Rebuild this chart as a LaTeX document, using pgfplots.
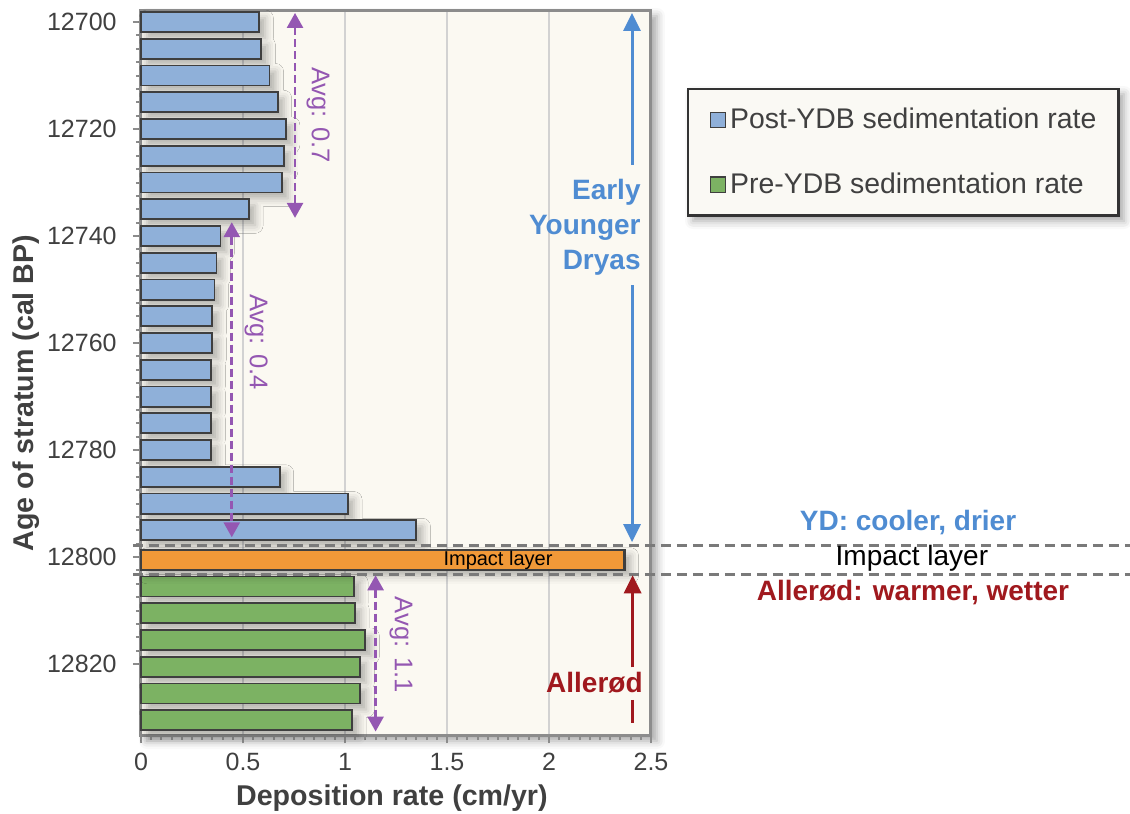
\documentclass[border=0pt]{standalone}
\usepackage{fontspec}
\setmainfont{Liberation Sans}
\usepackage{pgfplots}
\pgfplotsset{compat=1.18}
\usetikzlibrary{arrows.meta,shadows.blur}
\definecolor{barblue}{HTML}{8FB0D9}
\definecolor{bargreen}{HTML}{7CB263}
\definecolor{barorange}{HTML}{F19938}
\definecolor{bardark}{HTML}{3F3F3F}
\definecolor{plotbg}{HTML}{FBF9F2}
\definecolor{gridgray}{HTML}{D2D2D2}
\definecolor{framegray}{HTML}{8C8C8C}
\definecolor{textgray}{HTML}{404040}
\definecolor{purp}{HTML}{9457B2}
\definecolor{ydblue}{HTML}{4F8CD2}
\definecolor{alred}{HTML}{A0191E}
\definecolor{dashgray}{HTML}{7A7A7A}
\definecolor{legfill}{HTML}{FAF9F4}
\definecolor{legdark}{HTML}{333333}

\pgfplotstableread{
age rate
12700 0.58
12705 0.59
12710 0.63
12715 0.67
12720 0.71
12725 0.70
12730 0.69
12735 0.53
12740 0.39
12745 0.37
12750 0.36
12755 0.35
12760 0.35
12765 0.345
12770 0.345
12775 0.345
12780 0.345
12785 0.68
12790 1.015
12795 1.35
}\postydb
\pgfplotstableread{
age rate
12805.5 1.045
12810.5 1.05
12815.5 1.10
12820.5 1.075
12825.5 1.075
12830.5 1.035
}\preydb
\pgfplotstableread{
age rate
12800.5 2.37
}\impact

\newcommand{\tlfont}{\fontsize{12.5}{15}\selectfont}

\begin{document}
\begin{tikzpicture}
\begin{axis}[
  at={(0,0)}, anchor=south west,
  scale only axis, width=255pt, height=362.5pt,
  xmin=0, xmax=2.5, ymin=12697.75, ymax=12833.25, y dir=reverse,
  clip=false,
  xbar, bar width=3.75, 
  axis background/.style={fill=plotbg, blur shadow={shadow xshift=3pt, shadow yshift=-3pt, shadow blur radius=4pt, shadow opacity=35}},
  axis line style={draw=framegray, line width=1.5pt},
  xtick={0,0.5,1,1.5,2,2.5}, minor x tick num=9,
  xticklabels={0,0.5,1,1.5,2,2.5},
  ytick={12700,12720,12740,12760,12780,12800,12820}, minor y tick num=7,
  yticklabels={12700,12720,12740,12760,12780,12800,12820},
  xtick pos=bottom, ytick pos=left,
  tick align=outside,
  major tick length=4pt, minor tick length=2.5pt,
  tick style={draw=framegray, line width=1pt},
  xmajorgrids, major x grid style={draw=gridgray, line width=1pt},
  yticklabel style={font=\tlfont, text=textgray, anchor=east, inner sep=0pt, xshift=-8pt},
  xticklabel style={font=\tlfont, text=textgray, anchor=north, inner sep=0pt, yshift=-5pt},
  xlabel={Deposition rate (cm/yr)},
  ylabel={Age of stratum (cal BP)},
  label style={font=\bfseries\fontsize{14.3}{17}\selectfont, text=textgray},
  xlabel style={at={(axis description cs:0.492,-0.0869)}, anchor=center},
  ylabel style={at={(axis description cs:-0.2255,0.4717)}, anchor=center},
  legend style={at={(1.0706,0.8924)}, anchor=north west,
    draw=legdark, line width=1.2pt, fill=legfill,
    font=\fontsize{14.2}{17}\selectfont, text=textgray,
    inner xsep=6pt, inner ysep=7.5pt, row sep=16.5pt},
  legend cell align=left,
]
\addlegendimage{legend image code/.code={\path (0pt,0pt); \draw[fill=barblue, draw=bardark, line width=0.6pt] (4.5pt,-3.8pt) rectangle (12.1pt,3.8pt);}}
\addlegendentry{Post-YDB sedimentation rate\kern3pt}
\addlegendimage{legend image code/.code={\path (0pt,0pt); \draw[fill=bargreen, draw=bardark, line width=0.6pt] (4.5pt,-3.8pt) rectangle (12.1pt,3.8pt);}}
\addlegendentry{Pre-YDB sedimentation rate}

% legend shadow
\fill[legfill, blur shadow={shadow xshift=3pt, shadow yshift=-3pt, shadow blur radius=4pt, shadow opacity=35}]
  (axis description cs:1.0706,0.8924) rectangle (axis description cs:1.9157,0.7172);

\addplot[forget plot, bar shift=0pt, fill=barblue, draw=bardark, line width=0.9pt,
  blur shadow={shadow xshift=3pt, shadow yshift=-3pt, shadow blur radius=4pt, shadow opacity=30}]
  table[x=rate, y=age] {\postydb};
\addplot[forget plot, bar shift=0pt, fill=bargreen, draw=bardark, line width=0.9pt,
  blur shadow={shadow xshift=3pt, shadow yshift=-3pt, shadow blur radius=4pt, shadow opacity=30}]
  table[x=rate, y=age] {\preydb};
\addplot[forget plot, bar shift=0pt, fill=barorange, draw=bardark, line width=1.2pt,
  blur shadow={shadow xshift=3pt, shadow yshift=-3pt, shadow blur radius=4pt, shadow opacity=30}]
  table[x=rate, y=age] {\impact};

% dashed boundaries
\draw[dashgray, line width=1.5pt, dash pattern=on 5pt off 3pt] (axis cs:-0.04,12797.75) -- (axis cs:4.9,12797.75);
\draw[dashgray, line width=1.5pt, dash pattern=on 5pt off 3pt] (axis cs:-0.04,12803.25) -- (axis cs:4.9,12803.25);

\node[font=\fontsize{10}{12}\selectfont, text=black] at (axis cs:1.75,12800.6) {Impact layer};

% purple average arrows
\draw[purp, line width=1.3pt, dash pattern=on 4pt off 2pt, {Triangle[width=8pt,length=7.5pt]}-{Triangle[width=8pt,length=7.5pt]}] (axis cs:0.755,12698.3) -- (axis cs:0.755,12736.6);
\draw[purp, line width=1.3pt, dash pattern=on 4pt off 2pt, {Triangle[width=8pt,length=7.5pt]}-{Triangle[width=8pt,length=7.5pt]}] (axis cs:0.445,12737.4) -- (axis cs:0.445,12796.3);
\draw[purp, line width=1.3pt, dash pattern=on 4pt off 2pt, {Triangle[width=8pt,length=7.5pt]}-{Triangle[width=8pt,length=7.5pt]}] (axis cs:1.15,12803.4) -- (axis cs:1.15,12832.6);
\node[rotate=-90, text=purp, font=\fontsize{12.8}{15}\selectfont] at (axis cs:0.868,12717.4) {Avg: 0.7};
\node[rotate=-90, text=purp, font=\fontsize{12.8}{15}\selectfont] at (axis cs:0.564,12759.8) {Avg: 0.4};
\node[rotate=-90, text=purp, font=\fontsize{12.8}{15}\selectfont] at (axis cs:1.275,12816.4) {Avg: 1.1};

% Early Younger Dryas
\draw[ydblue, line width=1.5pt, -{Triangle[width=8.5pt,length=9pt]}] (axis cs:2.407,12726.7) -- (axis cs:2.407,12698.3);
\draw[ydblue, line width=1.5pt, -{Triangle[width=8.5pt,length=9pt]}] (axis cs:2.407,12749.2) -- (axis cs:2.407,12797.2);
\node[anchor=east, align=right, text=ydblue, font=\bfseries\fontsize{14}{17.5}\selectfont, inner sep=0pt] at (axis cs:2.451,12738.3) {Early\\Younger\\Dryas};

% Allerod
\draw[alred, line width=1.5pt, -{Triangle[width=8.5pt,length=9pt]}] (axis cs:2.41,12820.6) -- (axis cs:2.41,12803.4);
\draw[alred, line width=1.5pt] (axis cs:2.41,12826.7) -- (axis cs:2.41,12831.0);
\node[anchor=east, text=alred, font=\bfseries\fontsize{14}{17}\selectfont, inner sep=0pt] at (axis cs:2.461,12823.55) {Allerød};

% right side labels
\node[text=ydblue, font=\bfseries\fontsize{14}{17}\selectfont] at (axis cs:3.760,12793.46) {YD: cooler, drier};
\node[text=black, font=\fontsize{14}{17}\selectfont] at (axis cs:3.779,12800.19) {Impact layer};
\node[text=alred, font=\bfseries\fontsize{14}{17}\selectfont] at (axis cs:3.784,12806.7) {Allerød: warmer, wetter};
\end{axis}
\pgfresetboundingbox
\path[use as bounding box] (-70.5pt,-39.5pt) rectangle (494.5pt,367.5pt);
\end{tikzpicture}
\end{document}
